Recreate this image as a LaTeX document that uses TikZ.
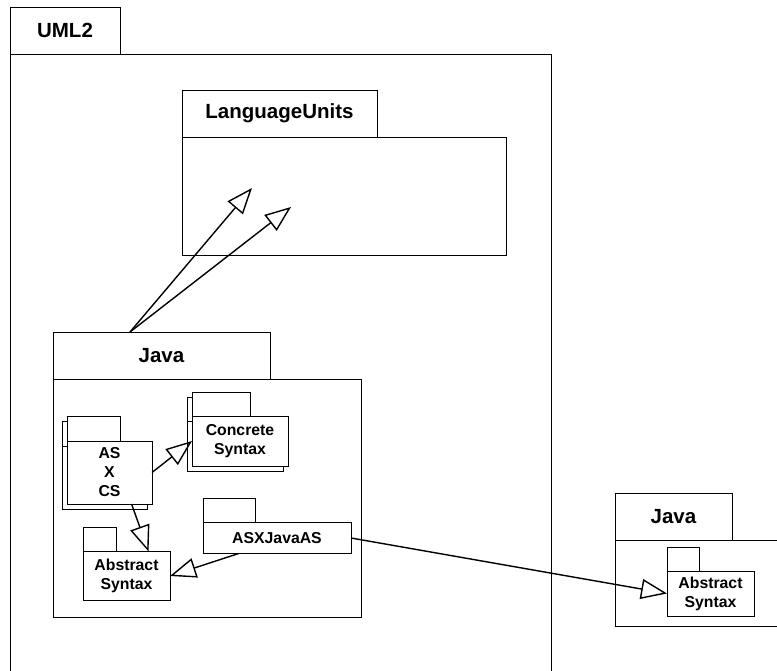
\documentclass[tikz,border=0pt]{standalone}
\usepackage{fontspec}
\setmainfont{Liberation Sans}
\usetikzlibrary{arrows.meta,positioning}
\begin{document}
\begin{tikzpicture}[x=1pt,y=-1pt]
      \tikzstyle{box} = [draw, line width=0.8pt, fill=white, inner sep=0pt, outer sep=0pt, anchor=north west, align=center, font=\bfseries\fontsize{15.8}{19}\selectfont]
      \tikzstyle{big} = [font=\bfseries\fontsize{20.5}{24}\selectfont]
      \tikzstyle{gen} = [draw, line width=1.4pt, -{Triangle[open, length=26pt, width=20pt]}]
      \useasboundingbox (0,0) rectangle (777,671);

      \node[box, big, minimum width=110pt, minimum height=47pt](umltab) at (10,7){UML2};
      \node[box, minimum width=541pt, minimum height=620pt](uml) at (umltab.south west){};

      \node[box, big, minimum width=195pt, minimum height=47pt](lutab) at (182,90){LanguageUnits};
      \node[box, minimum width=324pt, minimum height=118pt](lu) at (lutab.south west){};

      \node[box, big, minimum width=217pt, minimum height=47pt](javatab) at (53,332){Java};
      \node[box, minimum width=308pt, minimum height=238pt](java) at (javatab.south west){};

      \node[box, minimum width=53pt, minimum height=25pt](asxcsbacktab) at (62,421.5){};
      \node[box, minimum width=85pt, minimum height=63pt](asxcsback) at (asxcsbacktab.south west){};
      \node[box, minimum width=53pt, minimum height=25pt](asxcstab) at (67,416){};
      \node[box, minimum width=85pt, minimum height=63pt](asxcs) at (asxcstab.south west){AS\\X\\CS};

      \node[box, minimum width=58pt, minimum height=24pt](csbacktab) at (187,397.5){};
      \node[box, minimum width=96pt, minimum height=50pt](csback) at (csbacktab.south west){};
      \node[box, minimum width=58pt, minimum height=24pt](cstab) at (192,392){};
      \node[box, minimum width=96pt, minimum height=50pt](cs) at (cstab.south west){Concrete\\Syntax};

      \node[box, minimum width=33pt, minimum height=24pt](abstab) at (83,527.5){};
      \node[box, minimum width=87pt, minimum height=49pt](abs) at (abstab.south west){Abstract\\Syntax};

      \node[box, minimum width=52pt, minimum height=24pt](asxjavatab) at (203,498.5){};
      \node[box, minimum width=148pt, minimum height=31pt](asxjava) at (asxjavatab.south west){ASXJavaAS};

      \node[box, big, minimum width=117pt, minimum height=47pt](rjavatab) at (615,493.5){Java};
      \node[box, minimum width=164pt, minimum height=86pt](rjava) at (rjavatab.south west){};

      \node[box, minimum width=32pt, minimum height=24pt](rabstab) at (667,547){};
      \node[box, minimum width=87pt, minimum height=45pt](rabs) at (rabstab.south west){Abstract\\Syntax};

      \coordinate(javatop) at (130,332);
      \coordinate(luA) at (252,188);
      \coordinate(luB) at (291,207);

      \path[gen] (javatop) -- (luA);
      \path[gen] (javatop) -- (luB);
      \path[gen] (asxcs.east) -- (cs.west);
      \path[gen] (asxcs.-55) -- (abs.48);
      \path[gen] (asxjava.202.6) -- (abs.east);
      \path[gen] (asxjava.east) -- (rabs.west);
\end{tikzpicture}
\end{document}
